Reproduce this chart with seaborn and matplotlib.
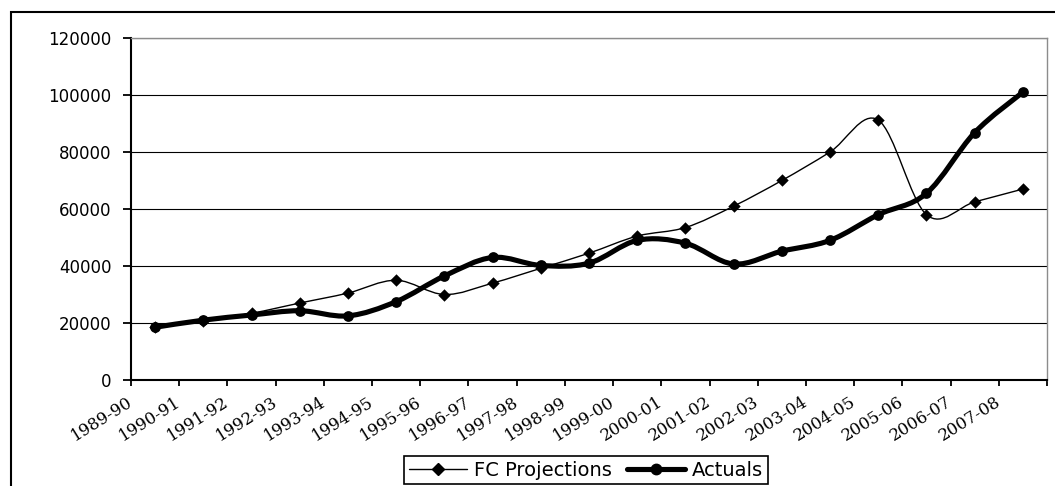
import numpy as np
import pandas as pd
import matplotlib
matplotlib.use("Agg")
import matplotlib.pyplot as plt
import seaborn as sns
from matplotlib.path import Path
from matplotlib.patches import PathPatch, Rectangle
from matplotlib.lines import Line2D

YEARS = ["1989-90", "1990-91", "1991-92", "1992-93", "1993-94", "1994-95",
         "1995-96", "1996-97", "1997-98", "1998-99", "1999-00", "2000-01",
         "2001-02", "2002-03", "2003-04", "2004-05", "2005-06", "2006-07",
         "2007-08"]
FC_PROJECTIONS = [18500, 20800, 23400, 27000, 30500, 35000, 30000, 34000,
                  39200, 44500, 50500, 53500, 61000, 70000, 80000, 91200,
                  58000, 62500, 67000]
ACTUALS = [18500, 21000, 22800, 24300, 22500, 27500, 36500, 43000,
           40200, 41000, 49000, 48000, 40700, 45200, 49000, 58000,
           65500, 86800, 101000]
Y_TICKS = [0, 20000, 40000, 60000, 80000, 100000, 120000]

W, H = 1055, 486


def smooth_path(xs, ys):
    """Excel-style smoothed line: cubic Bezier through the points."""
    pts = np.column_stack([xs, ys]).astype(float)
    ext = np.vstack([pts[:1], pts, pts[-1:]])
    verts = [pts[0]]
    codes = [Path.MOVETO]
    for i in range(len(pts) - 1):
        p0, p1, p2, p3 = ext[i], ext[i + 1], ext[i + 2], ext[i + 3]
        verts += [p1 + (p2 - p0) / 6, p2 - (p3 - p1) / 6, p2]
        codes += [Path.CURVE4] * 3
    return Path(verts, codes)


sns.set_style("white")
plt.rcParams["font.family"] = ["DejaVu Sans"]
plt.rcParams["text.color"] = "black"
plt.rcParams["xtick.color"] = "black"
plt.rcParams["ytick.color"] = "black"

fig = plt.figure(figsize=(W / 100, H / 100), dpi=100)
ax = fig.add_axes([131 / W, 106 / H, 916 / W, 342 / H])

pos = np.arange(len(YEARS))
df = pd.DataFrame({
    "pos": np.concatenate([pos, pos]),
    "value": FC_PROJECTIONS + ACTUALS,
    "series": ["FC Projections"] * len(YEARS) + ["Actuals"] * len(YEARS),
})

# smoothed lines
ax.add_patch(PathPatch(smooth_path(pos, FC_PROJECTIONS), fill=False,
                       ec="black", lw=1.0, zorder=2))
ax.add_patch(PathPatch(smooth_path(pos, ACTUALS), fill=False,
                       ec="black", lw=3.7, joinstyle="round", zorder=2.2))

# markers
sns.scatterplot(data=df[df.series == "FC Projections"], x="pos", y="value",
                marker="D", s=40, color="black", linewidth=0, legend=False,
                ax=ax, zorder=3)
sns.scatterplot(data=df[df.series == "Actuals"], x="pos", y="value",
                marker="o", s=60, color="black", linewidth=0, legend=False,
                ax=ax, zorder=3)

ax.set_xlim(-0.5, len(YEARS) - 0.5)
ax.set_ylim(0, 120000)
ax.set_yticks(Y_TICKS)
ax.set_yticklabels([str(v) for v in Y_TICKS], fontsize=12)
ax.set_xticks(np.arange(len(YEARS) + 1) - 0.5)
ax.set_xticklabels(YEARS + [""], rotation=32, ha="right", va="center",
                   rotation_mode="anchor", fontsize=12,
                   family=["DejaVu Serif"])
ax.tick_params(axis="x", bottom=True, direction="out", length=4, width=1.3,
               pad=11)
ax.tick_params(axis="y", left=True, direction="out", length=6, width=1.3,
               pad=8)
ax.set_xlabel("")
ax.set_ylabel("")

ax.yaxis.grid(True, color="black", linewidth=0.8)
ax.xaxis.grid(False)
ax.set_axisbelow(True)
for side in ["left", "bottom"]:
    ax.spines[side].set_color("black")
    ax.spines[side].set_linewidth(1.5)
for side in ["top", "right"]:
    ax.spines[side].set_color("#8c8c8c")
    ax.spines[side].set_linewidth(1.0)

handles = [
    Line2D([], [], color="black", lw=1.0, marker="D", markersize=6),
    Line2D([], [], color="black", lw=3.7, marker="o", markersize=7.5),
]
leg = fig.legend(handles, ["FC Projections", "Actuals"], loc="center",
                 bbox_to_anchor=(586 / W, 1 - 470 / H), ncol=2,
                 frameon=True, fancybox=False, edgecolor="black",
                 framealpha=1, fontsize=14, handlelength=3.0,
                 handletextpad=0.35, columnspacing=0.75, borderpad=0.25)
leg.get_frame().set_linewidth(1.2)

# outer chart frame
fig.add_artist(Rectangle((11 / W, -0.05), 1.1, 1 - 12 / H + 0.05,
                         transform=fig.transFigure, fill=False,
                         ec="black", lw=1.5))

fig.savefig("out.png", dpi=100)
